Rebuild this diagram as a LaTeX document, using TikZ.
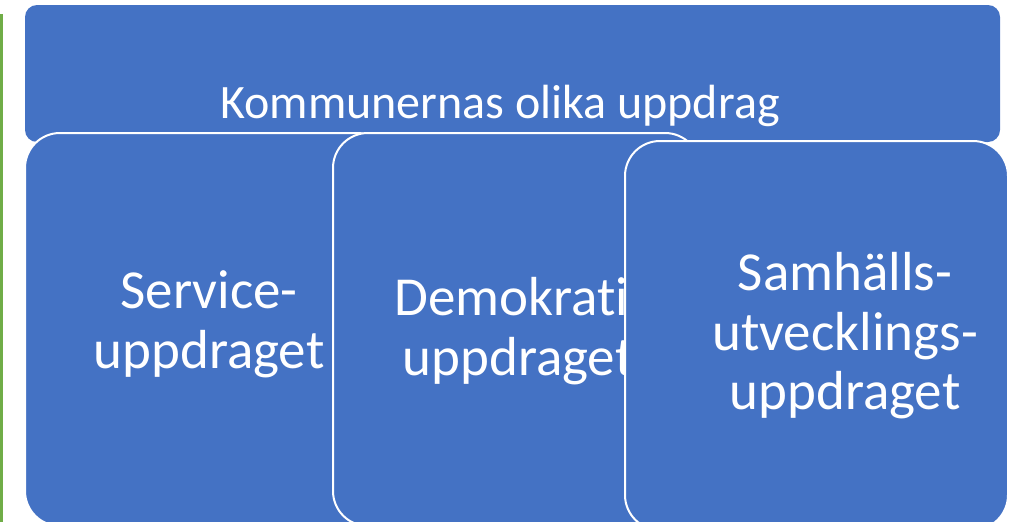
\documentclass[tikz,border=0pt]{standalone}
\usepackage{fontspec}
\setmainfont{Carlito}[RawFeature={-liga}]
\definecolor{boxblue}{HTML}{4472C4}
\definecolor{framegreen}{HTML}{70AD47}
\tikzset{
  panel/.style={draw=white, line width=2pt, fill=boxblue, rounded corners=35pt},
  banner/.style={fill=boxblue, rounded corners=12pt},
  bigtxt/.style={text=white, inner sep=0pt, anchor=base, font=\fontsize{55}{60}\selectfont},
  titletxt/.style={text=white, inner sep=0pt, anchor=base, font=\fontsize{48}{54}\selectfont},
}
\begin{document}
\begin{tikzpicture}[x=1pt,y=-1pt]
\useasboundingbox (0,0) rectangle (1015,522);
\clip (0,0) rectangle (1015,522);
% green frame edge
\draw[framegreen, line width=2.5pt] (-10,15) -- (1.5,15) -- (1.5,540);
% top banner
\fill[banner] (25,5) rectangle (1000,142);
\node[titletxt] (title) at (500,118) {Kommunernas olika uppdrag};
% box 1
\draw[panel] (25,133) rectangle (392,526);
\node[bigtxt] (s1) at (209,308) {Service-};
\node[bigtxt] (s2) at (209,368) {uppdraget};
% box 2
\draw[panel] (333,133) rectangle (700,526);
\node[bigtxt, anchor=base west] (d1) at (394,315) {Demokrati};
\node[bigtxt] (d2) at (518,375) {uppdraget};
% box 3
\draw[panel] (625,141) rectangle (1008,530);
\node[bigtxt] (u1) at (845,290) {Samhälls-};
\node[bigtxt] (u2) at (845,350) {utvecklings-};
\node[bigtxt] (u3) at (845,409) {uppdraget};
\end{tikzpicture}
\end{document}
